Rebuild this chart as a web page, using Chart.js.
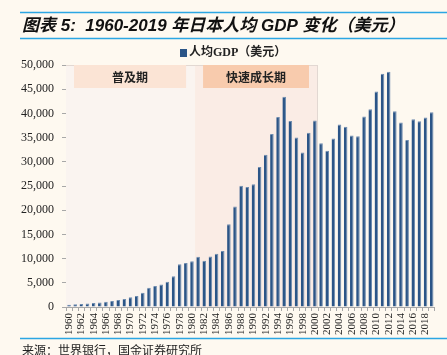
<!DOCTYPE html>
<html><head><meta charset="utf-8">
<script src="https://cdn.jsdelivr.net/npm/chart.js@4/dist/chart.umd.min.js"></script>
<style>
html,body{margin:0;padding:0;background:#FEF9F0;}
#wrap{position:absolute;left:0;top:0;width:447px;height:355px;}
</style></head>
<body><div id="wrap"><canvas id="c" width="447" height="355"></canvas></div>
<script>
const years = [];
for (let y = 1960; y <= 2019; y++) years.push(String(y));
const gdpPerCapita = [479,564,634,718,836,920,1059,1229,1451,1669,
  2038,2272,2967,3997,4354,4659,5197,6335,8821,9105,
  9463,10361,9578,10425,10984,11585,17112,20745,25051,24813,
  25359,28925,31465,35766,39269,43440,38437,35022,31903,36027,
  38532,33846,32289,34808,37689,37218,35434,35275,39339,40855,
  44508,48168,48603,40454,38109,34524,38794,38387,39159,40247];
const seriesName = '人均GDP（美元）';
const titleText = '图表 5:  1960-2019 年日本人均 GDP 变化（美元）';
const sourceText = '来源：世界银行，国金证券研究所';
const phases = [
  {name:'普及期', from:'1960', to:'1980', fill:'#FAF4F0', box:'#FBE4D5'},
  {name:'快速成长期', from:'1981', to:'2000', fill:'#FAECE5', box:'#F8CBAD'}
];

const serif = '"Liberation Serif","Noto Sans CJK SC",serif';

const decor = {
  id:'decor',
  beforeDatasetsDraw(chart){
    const {ctx, chartArea:a, scales:{x}} = chart;
    const half = (x.getPixelForValue(1) - x.getPixelForValue(0))/2;
    ctx.save();
    phases.forEach((p,i)=>{
      const l = i===0 ? a.left : x.getPixelForValue(years.indexOf(p.from)) - half;
      const r = x.getPixelForValue(years.indexOf(p.to)) + half;
      ctx.fillStyle = p.fill;
      ctx.fillRect(l, a.top, r-l, a.bottom-a.top);
      ctx.strokeStyle = '#E2D8D2';
      ctx.lineWidth = 1;
      ctx.beginPath();
      ctx.moveTo(l, a.top+0.5); ctx.lineTo(r, a.top+0.5);
      if (i===1){ ctx.moveTo(r-0.5, a.top); ctx.lineTo(r-0.5, a.bottom); }
      ctx.stroke();
      const bl = l + 8, br = r - 9;
      ctx.fillStyle = p.box;
      ctx.fillRect(bl, a.top, br-bl, 23);
      ctx.fillStyle = '#222';
      ctx.font = 'bold 12px "Noto Sans CJK SC",serif';
      ctx.textAlign = 'center'; ctx.textBaseline = 'middle';
      ctx.fillText(p.name, (bl+br)/2, a.top+12);
    });
    ctx.restore();
  },
  afterDraw(chart){
    const ctx = chart.ctx;
    ctx.save();
    ctx.strokeStyle = '#2BA6E3'; ctx.lineWidth = 1.5;
    ctx.beginPath();
    ctx.moveTo(20, 12.5); ctx.lineTo(447, 12.5);
    ctx.moveTo(20, 38.5); ctx.lineTo(447, 38.5);
    ctx.moveTo(20, 338.5); ctx.lineTo(447, 338.5);
    ctx.stroke();
    ctx.fillStyle = '#111';
    ctx.font = 'italic bold 17px "Liberation Sans","Noto Sans CJK SC",sans-serif';
    ctx.textAlign = 'left'; ctx.textBaseline = 'alphabetic';
    ctx.fillText(titleText, 22, 31);
    // legend
    ctx.fillStyle = '#2B5587';
    ctx.fillRect(180, 49, 7, 8);
    ctx.fillStyle = '#222';
    ctx.font = 'bold 12px ' + serif;
    ctx.textBaseline = 'middle';
    ctx.fillText(seriesName, 189, 53);
    // source
    ctx.font = '12px "Noto Sans CJK SC",serif';
    ctx.fillStyle = '#222';
    ctx.fillText(sourceText, 22, 350);
    ctx.restore();
  }
};

new Chart(document.getElementById('c'), {
  type:'bar',
  data:{labels:years, datasets:[{label:seriesName, data:gdpPerCapita,
    backgroundColor:'#2B5587', borderColor:'#6F8DB0', borderWidth:{left:0,right:1,top:1,bottom:0},
    barPercentage:0.58, categoryPercentage:1}]},
  options:{
    responsive:false, animation:false, devicePixelRatio:1,
    layout:{padding:{left:0, right:11, top:65, bottom:0}},
    plugins:{legend:{display:false}, tooltip:{enabled:false}},
    scales:{
      x:{
        offset:true,
        grid:{display:true, drawOnChartArea:false, drawTicks:true, tickLength:4, offset:true, color:'#A8A8A8'},
        border:{display:true, color:'#A8A8A8'},
        ticks:{autoSkip:false, maxRotation:90, minRotation:90, padding:2,
          color:'#222', font:{family:serif, size:11},
          callback:function(v,i){ return i%2===0 ? years[i] : ''; }},
        afterFit(s){ s.height = 48; }
      },
      y:{
        min:0, max:50000,
        grid:{display:true, drawOnChartArea:false, drawTicks:true, tickLength:4, color:'#A8A8A8'},
        border:{display:true, color:'#A8A8A8'},
        ticks:{stepSize:5000, padding:8, color:'#222', font:{family:serif, size:12},
          callback:v=>v.toLocaleString('en-US')},
        afterFit(s){ s.width = 66; }
      }
    }
  },
  plugins:[decor]
});
</script></body></html>
